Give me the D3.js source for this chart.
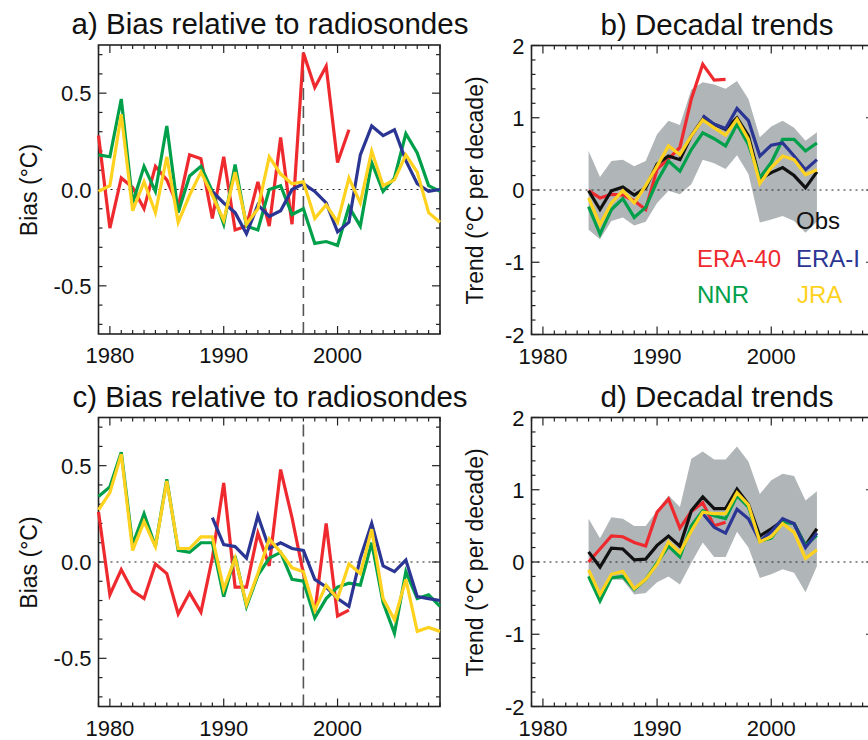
<!DOCTYPE html>
<html><head><meta charset="utf-8">
<script src="https://cdn.jsdelivr.net/npm/d3@7"></script>
<style>body{margin:0;background:#fff}text{font-family:"Liberation Sans",Arial,sans-serif;fill:#111}</style>
</head><body>
<svg id="c" width="868" height="740"></svg>
<script>
const yearsBias = d3.range(1979, 2010);
const yearsTrend = d3.range(1984, 2005);
const biasTicks = [-0.5, 0.0, 0.5];
const biasTickLabels = ["-0.5", "0.0", "0.5"];
const trendTicks = [-2, -1, 0, 1, 2];
const yearTicks = [1980, 1990, 2000];

// Panel a
const aERA40 = [0.28,-0.20,0.06,0.01,-0.10,0.12,0.05,-0.09,0.18,0.16,-0.15,0.17,-0.21,-0.19,0.04,-0.19,0.27,-0.18,0.71,0.53,0.64,0.14,0.31];
const aERAI = [null,null,null,null,null,null,null,null,null,null,-0.01,-0.07,-0.12,-0.23,-0.08,-0.14,-0.11,0.00,0.03,-0.01,-0.07,-0.22,-0.17,0.18,0.33,0.28,0.31,0.15,0.03,-0.01,0.00];
const aNNR = [0.18,0.17,0.47,-0.07,0.12,-0.01,0.33,-0.12,0.07,0.12,-0.01,-0.18,0.13,-0.19,-0.21,0.00,0.02,-0.13,-0.10,-0.28,-0.27,-0.29,-0.09,-0.19,0.14,-0.01,0.06,0.29,0.19,0.02,-0.01];
const aJRA = [-0.01,0.02,0.39,-0.11,0.04,-0.12,0.17,-0.17,-0.03,0.09,-0.03,-0.16,0.09,-0.18,-0.10,0.17,0.08,0.03,0.04,-0.15,-0.08,-0.17,0.06,-0.07,0.20,0.02,0.05,0.18,0.09,-0.12,-0.17];
// Panel c
const cERA40 = [0.26,-0.17,-0.04,-0.15,-0.19,-0.01,-0.06,-0.27,-0.16,-0.26,0.02,0.41,-0.13,-0.13,0.15,-0.02,0.48,0.23,-0.06,-0.26,0.20,-0.28,-0.25];
const cERAI = [null,null,null,null,null,null,null,null,null,null,0.23,0.09,0.08,0.02,0.24,0.07,0.10,0.07,0.06,-0.09,-0.13,-0.19,-0.23,0.02,0.20,-0.02,-0.05,0.01,-0.18,-0.19,-0.20];
const cNNR = [0.34,0.39,0.57,0.09,0.25,0.08,0.43,0.06,0.05,0.10,0.10,-0.18,0.03,-0.23,-0.07,0.02,0.05,-0.09,-0.10,-0.29,-0.19,-0.13,-0.11,-0.12,0.10,-0.21,-0.37,-0.05,-0.19,-0.17,-0.23];
const cJRA = [0.27,0.36,0.56,0.06,0.21,0.08,0.42,0.07,0.07,0.13,0.13,-0.14,0.02,-0.22,-0.06,0.12,0.05,-0.03,-0.05,-0.25,-0.12,-0.19,-0.01,-0.06,0.17,-0.19,-0.30,-0.09,-0.36,-0.34,-0.36];
// Panel b
const bObs = [-0.01,-0.27,-0.01,0.04,-0.07,0.03,0.36,0.47,0.42,0.75,0.98,0.91,0.84,1.00,0.75,0.15,0.24,0.31,0.20,0.03,0.25];
const bERA40 = [-0.01,-0.11,-0.06,-0.07,-0.15,-0.27,0.29,0.43,0.59,1.26,1.74,1.52,1.53];
const bERAI = [null,null,null,null,null,null,null,null,null,null,1.03,0.91,0.85,1.13,0.96,0.47,0.62,0.65,0.47,0.28,0.42];
const bNNR = [-0.23,-0.61,-0.27,-0.12,-0.38,-0.24,0.12,0.40,0.26,0.56,0.79,0.71,0.61,0.91,0.63,0.17,0.38,0.70,0.70,0.54,0.65];
const bJRA = [-0.11,-0.48,-0.18,-0.01,-0.18,0.06,0.33,0.61,0.49,0.75,0.97,0.86,0.76,0.98,0.70,0.09,0.31,0.47,0.42,0.21,0.28];
const bHi = [0.54,0.18,0.40,0.42,0.33,0.40,0.77,0.96,0.90,1.39,1.49,1.46,1.40,1.51,1.26,0.73,0.88,0.96,0.86,0.68,0.80];
const bLo = [-0.55,-0.68,-0.43,-0.38,-0.49,-0.44,-0.18,-0.01,-0.06,0.08,0.42,0.37,0.29,0.48,0.22,-0.45,-0.41,-0.36,-0.43,-0.59,-0.44];
// Panel d
const dObs = [0.14,-0.07,0.19,0.18,0.03,0.04,0.23,0.36,0.22,0.71,0.90,0.74,0.74,1.01,0.80,0.36,0.46,0.57,0.53,0.23,0.46];
const dERA40 = [0.00,0.18,0.36,0.35,0.27,0.22,0.69,0.87,0.47,0.70,0.82,0.50,0.55];
const dERAI = [null,null,null,null,null,null,null,null,null,null,0.67,0.48,0.40,0.73,0.60,0.29,0.42,0.60,0.53,0.20,0.40];
const dNNR = [-0.20,-0.54,-0.22,-0.20,-0.38,-0.24,-0.01,0.22,0.07,0.50,0.71,0.64,0.60,0.92,0.76,0.29,0.33,0.55,0.53,0.23,0.37];
const dJRA = [-0.11,-0.45,-0.17,-0.13,-0.37,-0.24,-0.03,0.28,0.13,0.43,0.69,0.67,0.67,0.96,0.79,0.28,0.35,0.53,0.41,0.05,0.17];
const dHi = [0.60,0.33,0.62,0.60,0.50,0.50,0.71,0.92,0.76,1.43,1.53,1.42,1.42,1.60,1.39,0.94,1.13,1.22,1.19,0.85,0.98];
const dLo = [-0.20,-0.45,-0.24,-0.25,-0.45,-0.43,-0.28,-0.20,-0.31,-0.01,0.27,0.07,0.07,0.42,0.20,-0.22,-0.17,-0.10,-0.15,-0.42,-0.06];

const COL = {era40:"#ee2a2f", erai:"#2b3593", nnr:"#00a04b", jra:"#ffd21f", obs:"#111111"};
const svg = d3.select("#c");

function frame(g, x, y, yMaj, yMinStep, yDom, ylabels) {
  const yMin = d3.range(yDom[0], yDom[1] + 1e-9, yMinStep);
  const xMin = d3.range(1979, 2010);
  const ax = g.append("g").attr("stroke", "#222").attr("stroke-width", 1.2);
  ax.append("rect").attr("x", x.range()[0]).attr("y", y.range()[1])
    .attr("width", x.range()[1] - x.range()[0]).attr("height", y.range()[0] - y.range()[1])
    .attr("fill", "none").attr("stroke-width", 1.6);
  const [x0, x1] = x.range(), [yb, yt] = y.range();
  xMin.forEach(v => {
    const L = yearTicks.includes(v) ? 8 : 4;
    ax.append("line").attr("x1", x(v)).attr("x2", x(v)).attr("y1", yb).attr("y2", yb - L);
    ax.append("line").attr("x1", x(v)).attr("x2", x(v)).attr("y1", yt).attr("y2", yt + L);
  });
  yMin.forEach(v => {
    const maj = yMaj.some(m => Math.abs(m - v) < 1e-6);
    const L = maj ? 8 : 4;
    ax.append("line").attr("x1", x0).attr("x2", x0 + L).attr("y1", y(v)).attr("y2", y(v));
    ax.append("line").attr("x1", x1).attr("x2", x1 - L).attr("y1", y(v)).attr("y2", y(v));
  });
  yMaj.forEach((v, i) => g.append("text").attr("x", x0 - 7).attr("y", y(v) + 8)
    .attr("text-anchor", "end").attr("font-size", 22).text(ylabels[i]));
  yearTicks.forEach(v => g.append("text").attr("x", x(v)).attr("y", yb + 29)
    .attr("text-anchor", "middle").attr("font-size", 22).text(v));
  g.append("line").attr("x1", x0).attr("x2", x1).attr("y1", y(0)).attr("y2", y(0))
    .attr("stroke", "#222").attr("stroke-width", 1.2).attr("stroke-dasharray", "2,4");
}

function series(g, x, y, years, vals, col) {
  const line = d3.line().defined(d => d[1] != null).x(d => x(d[0])).y(d => y(d[1]));
  g.append("path").datum(vals.map((v, i) => [years[i], v]))
    .attr("d", line).attr("fill", "none").attr("stroke", col).attr("stroke-width", 3.2);
}

function biasPanel(top, title, e40, ei, nnr, jra) {
  const g = svg.append("g");
  const x = d3.scaleLinear().domain([1979, 2009]).range([98.5, 440]);
  const y = d3.scaleLinear().domain([-0.75, 0.75]).range([top + 289, top]);
  g.append("text").attr("x", 270).attr("y", top - 11).attr("text-anchor", "middle").attr("font-size", 29.5).text(title);
  g.append("text").attr("transform", `translate(37,${top + 145}) rotate(-90)`).attr("text-anchor", "middle").attr("font-size", 23).text("Bias (°C)");
  frame(g, x, y, biasTicks, 0.1, [-0.7, 0.7], biasTickLabels);
  g.append("line").attr("x1", x(1997)).attr("x2", x(1997)).attr("y1", y.range()[0]).attr("y2", y.range()[1])
    .attr("stroke", "#555").attr("stroke-width", 1.6).attr("stroke-dasharray", "12,6");
  series(g, x, y, yearsBias, e40, COL.era40);
  series(g, x, y, yearsBias, nnr, COL.nnr);
  series(g, x, y, yearsBias, ei, COL.erai);
  series(g, x, y, yearsBias, jra, COL.jra);
}

function trendPanel(top, title, obs, e40, ei, nnr, jra, hi, lo, legend) {
  const g = svg.append("g");
  const x = d3.scaleLinear().domain([1979, 2009]).range([531.5, 874]);
  const y = d3.scaleLinear().domain([-2, 2]).range([top + 289, top]);
  g.append("text").attr("x", 717).attr("y", top - 11).attr("text-anchor", "middle").attr("font-size", 29.5).text(title);
  g.append("text").attr("transform", `translate(483,${top + 145}) rotate(-90)`).attr("text-anchor", "middle").attr("font-size", 23).text("Trend (°C per decade)");
  const area = d3.area().x((d, i) => x(yearsTrend[i])).y0((d, i) => y(lo[i])).y1(d => y(d));
  g.append("path").datum(hi).attr("d", area).attr("fill", "#b0b5b8");
  frame(g, x, y, trendTicks, 0.2, [-2, 2], trendTicks.map(String));
  series(g, x, y, yearsTrend, e40, COL.era40);
  series(g, x, y, yearsTrend, obs, COL.obs);
  series(g, x, y, yearsTrend, nnr, COL.nnr);
  series(g, x, y, yearsTrend, ei, COL.erai);
  series(g, x, y, yearsTrend, jra, COL.jra);
  if (legend) {
    const L = [["Obs", 796, 229, COL.obs], ["ERA-40", 697, 267, COL.era40], ["ERA-I", 796, 267, COL.erai],
               ["NNR", 697, 303, COL.nnr], ["JRA", 797, 303, COL.jra]];
    L.forEach(d => g.append("text").attr("x", d[1]).attr("y", d[2]).attr("font-size", 24).style("fill", d[3]).text(d[0]));
  }
}

biasPanel(45, "a) Bias relative to radiosondes", aERA40, aERAI, aNNR, aJRA);
trendPanel(45.5, "b) Decadal trends", bObs, bERA40, bERAI, bNNR, bJRA, bHi, bLo, true);
biasPanel(417.5, "c) Bias relative to radiosondes", cERA40, cERAI, cNNR, cJRA);
trendPanel(417.5, "d) Decadal trends", dObs, dERA40, dERAI, dNNR, dJRA, dHi, dLo, false);
</script>
</body></html>
